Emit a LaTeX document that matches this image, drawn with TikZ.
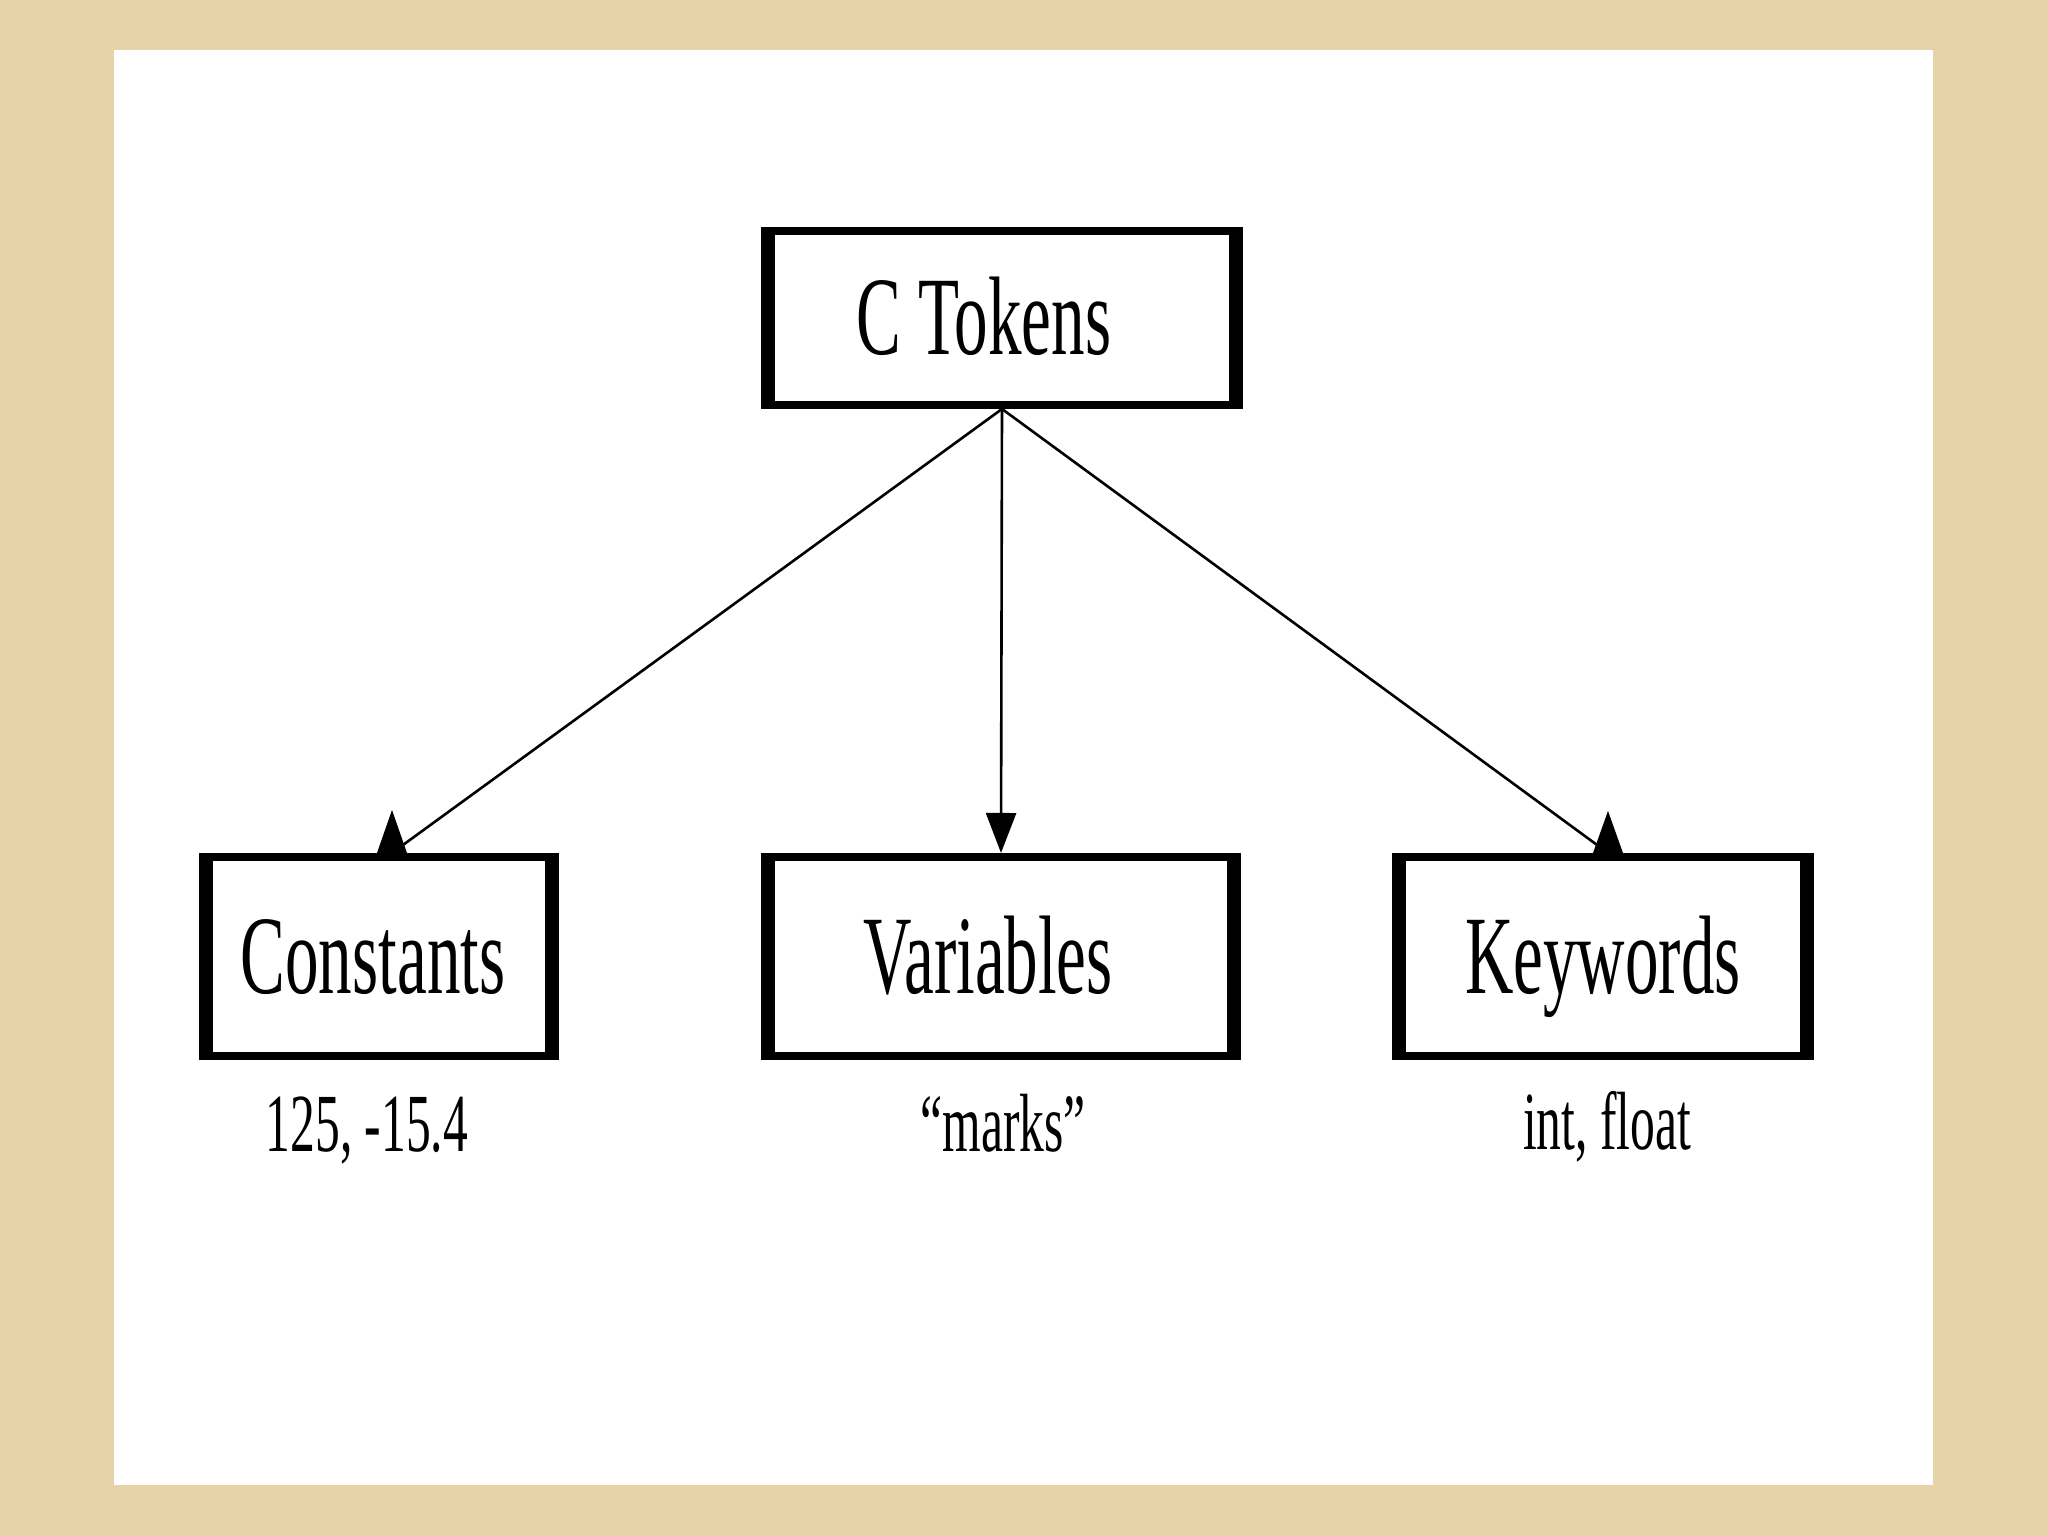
\documentclass[tikz,border=0pt]{standalone}
\usepackage{fontspec}
\setmainfont{Liberation Serif}
\newfontfamily\condfont[FakeStretch=0.6]{Liberation Serif}
\usetikzlibrary{arrows.meta}
\definecolor{parch}{RGB}{230,211,168}
\begin{document}
\begin{tikzpicture}[
  boxn/.style={draw, line width=0.08cm, inner sep=0pt,
    font=\condfont\fontsize{31.8}{36}\selectfont,
    text height=0.74cm, text depth=0cm},
  lbl/.style={font=\condfont\fontsize{23.5}{28}\selectfont, anchor=base, inner sep=0pt},
  line/.style={line width=0.026cm},
  arr/.style={line width=0.026cm, -{Triangle[length=0.4cm,width=0.3cm]}},
  uptri/.style={fill=black}
]
\fill[parch] (0,0) rectangle (20.48,15.36);
\fill[white] (1.14,0.51) rectangle (19.33,14.86);
\node[boxn, minimum width=4.74cm, minimum height=1.74cm] (ct) at (10.02,12.18) {C Tokens\hspace*{0.36cm}};
\node[boxn, minimum width=3.52cm, minimum height=1.99cm] (co) at (3.79,5.795) {Constants\hspace*{0.12cm}};
\node[boxn, minimum width=4.72cm, minimum height=1.99cm] (va) at (10.01,5.795) {Variables\hspace*{0.26cm}};
\node[boxn, minimum width=4.14cm, minimum height=1.99cm] (kw) at (16.03,5.795) {Keywords};
\foreach \n in {ct,co,va,kw} {
  \fill (\n.north west) rectangle ([xshift=0.14cm]\n.south west);
  \fill (\n.north east) rectangle ([xshift=-0.14cm]\n.south east);
}
\coordinate (cb) at ([xshift=0.13cm]co.north);
\coordinate (kb) at ([xshift=0.05cm]kw.north);
\draw[line] (ct.south) -- (cb);
\draw[arr] (ct.south) -- (va.north);
\draw[line] (ct.south) -- (kb);
\fill[uptri, shift={(cb)}] (-0.15,0) -- (0,0.43) -- (0.15,0) -- cycle;
\fill[uptri, shift={(kb)}] (-0.15,0) -- (0,0.42) -- (0.15,0) -- cycle;
\node[lbl] (l1) at (3.67,3.84) {125, -15.4};
\node[lbl] (l2) at (10.03,3.84) {“marks”};
\node[lbl] (l3) at (16.07,3.86) {int, float};
\end{tikzpicture}
\end{document}
